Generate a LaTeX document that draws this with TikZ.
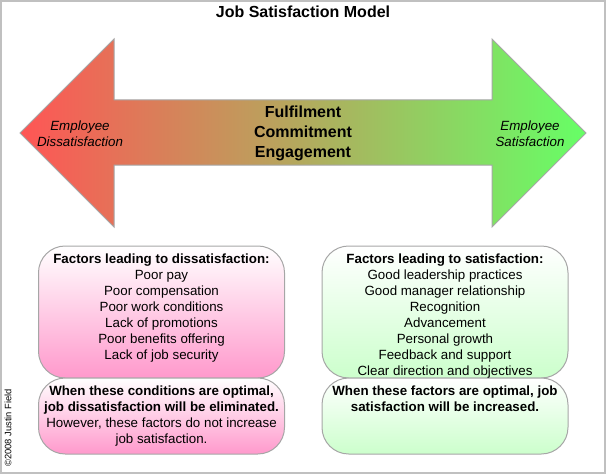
\documentclass[tikz,border=0pt]{standalone}
\usepackage{fontspec}
\setmainfont{Liberation Sans}
\usepackage{tikz}
\usetikzlibrary{positioning}
\definecolor{framegray}{HTML}{C0C0C0}
\definecolor{edgegray}{HTML}{A6A6A6}
\definecolor{badred}{HTML}{FF5555}
\definecolor{goodgreen}{HTML}{66FF66}
\definecolor{softpink}{HTML}{FF99CC}
\definecolor{softgreen}{HTML}{CCFFCC}
\tikzset{
		% Box styles for the two columns: pink and green
		pink box/.style={rectangle,draw=edgegray,line width=.75pt,rounded corners=20,top color=white,bottom color=softpink,minimum width=184.5pt},
		green box/.style={rectangle,draw=edgegray,line width=.75pt,rounded corners=20,top color=white,bottom color=softgreen,minimum width=184.5pt},
		box text/.style={align=center,font=\fontsize{10}{12}\selectfont,inner sep=0},
		end text/.style={align=center,font=\fontsize{10}{12}\selectfont\itshape,inner sep=0},
		mid text/.style={align=center,font=\fontsize{12}{15}\selectfont\bfseries,inner sep=0}
	}

\begin{document}
\begin{tikzpicture}
		[x=.75pt,y=-.75pt]
		\useasboundingbox (0,0) rectangle (606,474);
		\draw[framegray,line width=1.5pt] (1,1) rectangle (605,473);
		\node[inner sep=0,font=\fontsize{12}{15}\selectfont\bfseries] (title) at (303,12) {Job Satisfaction Model};
		% the long arrow
		\shade[left color=badred,right color=goodgreen,draw=edgegray,line width=.75pt]
			(20,133) -- (114,39) -- (114,100) -- (492,100) -- (492,39) -- (586,133)
			-- (492,227) -- (492,165) -- (114,165) -- (114,227) -- cycle;
		\node[end text] (bad) at (80,133.5) {Employee\\Dissatisfaction};
		\node[end text] (good) at (530,133.5) {Employee\\Satisfaction};
		\node[mid text] (mid) at (303,133.5) {Fulfilment\\Commitment\\Engagement};
		% left column
		\node[pink box,minimum height=99pt] (factorsbad) at (161.5,312) {};
		\node[pink box,minimum height=57pt] (optimalbad) at (161.5,416) {};
		\node[box text,below=6pt of factorsbad.north] (listbad) {\textbf{Factors leading to dissatisfaction:}\\Poor pay\\Poor compensation\\Poor work conditions\\Lack of promotions\\Poor benefits offering\\Lack of job security};
		\node[box text,below=6pt of optimalbad.north] (notebad) {\textbf{When these conditions are optimal,}\\\textbf{job dissatisfaction will be eliminated.}\\However, these factors do not increase\\job satisfaction.};
		% right column
		\node[green box,minimum height=99pt] (factorsgood) at (445,312) {};
		\node[green box,minimum height=57pt] (optimalgood) at (445,416) {};
		\node[box text,below=6pt of factorsgood.north] (listgood) {\textbf{Factors leading to satisfaction:}\\Good leadership practices\\Good manager relationship\\Recognition\\Advancement\\Personal growth\\Feedback and support\\Clear direction and objectives};
		\node[box text,below=6pt of optimalgood.north] (notegood) {\textbf{When these factors are optimal, job}\\\textbf{satisfaction will be increased.}};
		\node[rotate=90,inner sep=0,font=\fontsize{7}{8}\selectfont] (copyright) at (8,428) {©2008 Justin Field};
	\end{tikzpicture}
\end{document}
